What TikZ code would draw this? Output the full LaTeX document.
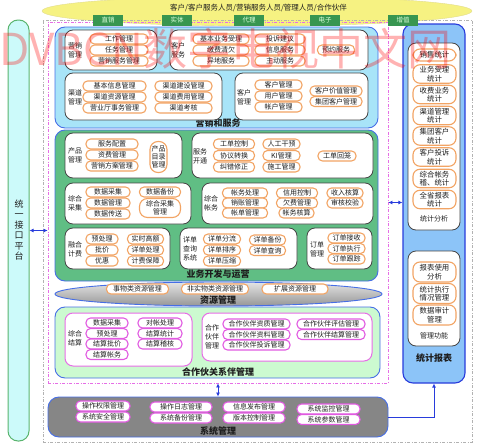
\documentclass[tikz,border=0pt]{standalone}
\usepackage{fontspec}
\setmainfont{Noto Sans CJK SC}
\usetikzlibrary{shapes.geometric,arrows.meta}
\definecolor{yellowc}{RGB}{246,242,130}
\definecolor{yellowd}{RGB}{225,220,140}
\definecolor{mkfill}{RGB}{168,228,248}
\definecolor{bizfill}{RGB}{96,190,132}
\definecolor{ptfill}{RGB}{204,250,208}
\definecolor{sysfill}{RGB}{134,134,134}
\definecolor{stfill}{RGB}{140,196,248}
\definecolor{secborder}{RGB}{70,110,230}
\definecolor{lbfill}{RGB}{204,250,250}
\definecolor{lbborder}{RGB}{90,180,110}
\definecolor{tabfill}{RGB}{56,150,80}
\definecolor{tabtext}{RGB}{220,255,220}
\definecolor{boxgray}{RGB}{70,70,70}
\definecolor{pillorange}{RGB}{242,164,100}
\definecolor{pillpink}{RGB}{225,90,225}
\definecolor{framepink}{RGB}{230,110,230}
\definecolor{arrowblue}{RGB}{40,60,220}
\definecolor{txt}{RGB}{30,30,30}
\newcommand{\myitem}{\fontsize{7}{8}\selectfont}
\newcommand{\mystat}{\fontsize{7.4}{8.6}\selectfont}
\newcommand{\mylab}{\fontsize{7}{9}\selectfont}
\newcommand{\mysec}{\fontsize{9}{10}\selectfont\bfseries}
\newcommand{\mysky}{\fontsize{7.5}{8}\selectfont}
\tikzset{
  pill/.style={draw=pillorange, line width=1.1pt, fill=white, rounded corners=4.5pt,
    inner sep=0pt, minimum height=10pt, minimum width=#1, font=\myitem, text=txt, align=center},
  ppill/.style={pill=#1, draw=pillpink},
  spill/.style={pill=43, font=\mystat, rounded corners=7pt},
  wbox/.style={draw=boxgray, line width=0.8pt, fill=white, rounded corners=8pt, inner sep=0pt},
  pbox/.style={wbox, draw=framepink, line width=1pt},
  sec/.style={draw=secborder, line width=0.9pt, rounded corners=10pt, inner sep=0pt},
  lab/.style={font=\mylab, text=txt, align=center, inner sep=0pt},
  seclab/.style={font=\mysec, text=txt, inner sep=0pt},
  tab/.style={fill=tabfill, minimum width=30pt, minimum height=11pt, inner sep=0pt,
    font=\fontsize{6.5}{7}\selectfont, text=tabtext},
  dbl/.style={arrowblue, line width=1pt, {Latex[length=4pt,width=4pt]}-{Latex[length=4pt,width=4pt]}},
  sgl/.style={arrowblue, line width=0.9pt, -{Latex[length=4pt,width=4pt]}}
}
\begin{document}
\begin{tikzpicture}[x=1pt,y=-1pt]
\useasboundingbox (0,0) rectangle (480,447);
\clip (0,0) rectangle (480,447);
% top ellipse
\node[ellipse, fill=yellowc, draw=yellowd, minimum width=430pt, minimum height=30pt] (sky) at (257,11) {};
\node[font=\mysky, text=txt, inner sep=0pt] (skyt) at (258.5,8) {客户/客户服务人员/营销服务人员/管理人员/合作伙伴};
% frames
\node[draw=gray!60, line width=0.8pt, dash pattern=on 3pt off 1.5pt on 1pt off 1.5pt, minimum width=429pt, minimum height=422pt, inner sep=0pt] (outer) at (257.5,231) {};
\node[draw=framepink, line width=0.8pt, dash pattern=on 3pt off 1.5pt on 1pt off 1.5pt, minimum width=340pt, minimum height=361pt, inner sep=0pt] (pinkf) at (218,202.5) {};
% left bar
\node[draw=lbborder, fill=lbfill, line width=1pt, rounded corners=10pt, minimum width=21pt, minimum height=421pt, inner sep=0pt] (lb) at (18.5,230.5) {};
\node[font=\fontsize{9}{10.5}\selectfont, text=txt, align=center, inner sep=0pt] (lbt) at (19,230) {统\\一\\接\\口\\平\\台};

% ===== marketing
\node[sec, fill=mkfill, minimum width=323pt, minimum height=101pt] (mk) at (216.5,77.5) {};
\node[seclab] (mkl) at (218,123.5) {营销和服务};
\node[wbox, minimum width=92pt, minimum height=40pt] (yxgl) at (111,50) {};
\node[lab] (yxgll) at (75,50) {营销\\管理};
\node[pill=58] (a1) at (119,39) {工作管理};
\node[pill=58] (a2) at (119,50) {任务管理};
\node[pill=58] (a3) at (119,61) {营销服务管理};
\node[wbox, minimum width=198pt, minimum height=40pt] (khfw) at (269,50) {};
\node[lab] (khfwl) at (178,50) {客户\\服务};
\node[pill=56] (b1) at (221,39) {基本业务受理};
\node[pill=56] (b2) at (221,50) {缴费清欠};
\node[pill=56] (b3) at (221,61) {异地服务};
\node[pill=50] (b4) at (280,39) {投诉建议};
\node[pill=50] (b5) at (280,50) {信息服务};
\node[pill=50] (b6) at (280,61) {主动服务};
\node[pill=37] (b7) at (336,50) {预约服务};
\node[wbox, minimum width=157pt, minimum height=47pt] (qdgl) at (143.5,96.5) {};
\node[lab] (qdgll) at (75,97) {渠道\\管理};
\node[pill=63] (c1) at (114.5,86) {基本信息管理};
\node[pill=63] (c2) at (114.5,97) {渠道资源管理};
\node[pill=63] (c3) at (114.5,108) {营业厅事务管理};
\node[pill=57] (c4) at (183.5,86) {渠道建设管理};
\node[pill=57] (c5) at (183.5,97) {渠道费用管理};
\node[pill=57] (c6) at (183.5,108) {渠道考核};
\node[wbox, minimum width=133pt, minimum height=47pt] (khgl) at (301.5,96.5) {};
\node[lab] (khgll) at (244,97) {客户\\管理};
\node[pill=47] (d1) at (278.5,85) {客户管理};
\node[pill=47] (d2) at (278.5,96) {用户管理};
\node[pill=47] (d3) at (278.5,107) {帐户管理};
\node[pill=52] (d4) at (336,91) {客户价值管理};
\node[pill=52] (d5) at (336,101.5) {集团客户管理};

% ===== business
\node[sec, fill=bizfill, minimum width=323pt, minimum height=151pt] (biz) at (216.5,205.5) {};
\node[seclab] (bizl) at (218,274.5) {业务开发与运营};
\node[wbox, minimum width=117pt, minimum height=45pt] (cpgl) at (123.5,155.5) {};
\node[lab] (cpgll) at (75,155) {产品\\管理};
\node[pill=52] (e1) at (112,144) {服务配置};
\node[pill=52] (e2) at (112,155) {资费管理};
\node[pill=52] (e3) at (112,166) {营销方案管理};
\node[pill=17, minimum height=31pt, rounded corners=8pt] (e4) at (158.5,157) {产品\\目录\\管理};
\node[wbox, minimum width=181pt, minimum height=45pt] (fwkt) at (282.5,155.5) {};
\node[lab] (fwktl) at (200,156) {服务\\开通};
\node[pill=41] (f1) at (234,144) {工单控制};
\node[pill=41] (f2) at (234,155.5) {协议转换};
\node[pill=41] (f3) at (234,167) {纠错修正};
\node[pill=37] (f4) at (281.5,144) {人工干预};
\node[pill=37] (f5) at (281.5,155.5) {KI管理};
\node[pill=37] (f6) at (281.5,167) {施工管理};
\node[pill=38] (f7) at (337,156) {工单回笼};
\node[wbox, minimum width=126pt, minimum height=41pt] (zhcj) at (128,203.5) {};
\node[lab] (zhcjl) at (75,203) {综合\\采集};
\node[pill=44] (g1) at (108,192) {数据采集};
\node[pill=44] (g2) at (108,203) {数据管理};
\node[pill=44] (g3) at (108,214) {数据传送};
\node[pill=41] (g4) at (160,192) {数据备份};
\node[pill=41, minimum height=19pt, rounded corners=8pt] (g5) at (160,208) {综合采集\\管理};
\node[wbox, minimum width=171pt, minimum height=41pt] (zhzw) at (287.5,203.5) {};
\node[lab] (zhzwl) at (211,203) {综合\\帐务};
\node[pill=45] (h1) at (245,193) {帐务处理};
\node[pill=45] (h2) at (245,203) {销账管理};
\node[pill=45] (h3) at (245,213) {帐单管理};
\node[pill=41] (h4) at (297,193) {信用控制};
\node[pill=41] (h5) at (297,203) {欠费管理};
\node[pill=35] (h6) at (296.5,213) {帐务核算};
\node[pill=36] (h7) at (345,193) {收入核算};
\node[pill=36] (h8) at (345,203) {审核校验};
\node[wbox, minimum width=105pt, minimum height=41pt] (rhjf) at (117.5,248.5) {};
\node[lab] (rhjfl) at (75,249) {融合\\计费};
\node[pill=32] (i1) at (102,239) {预处理};
\node[pill=32] (i2) at (102,250) {批价};
\node[pill=32] (i3) at (102,261) {优惠};
\node[pill=36] (i4) at (145.5,239) {实时高额};
\node[pill=36] (i5) at (145.5,250) {详单处理};
\node[pill=36] (i6) at (145.5,261) {计费保障};
\node[wbox, minimum width=117pt, minimum height=41pt] (xdcx) at (238.5,248.5) {};
\node[lab] (xdcxl) at (190,248.5) {详单\\查询\\系统};
\node[pill=37] (j1) at (222,239) {详单分流};
\node[pill=37] (j2) at (222,250) {详单排序};
\node[pill=37] (j3) at (222,261) {详单压缩};
\node[pill=36] (j4) at (267.5,240) {详单备份};
\node[pill=36] (j5) at (267.5,250.5) {详单查询};
\node[wbox, minimum width=65pt, minimum height=41pt] (ddgl) at (339.5,248.5) {};
\node[lab] (ddgll) at (317,249) {订单\\管理};
\node[pill=37] (k1) at (346.5,238) {订单接收};
\node[pill=37] (k2) at (346.5,248.5) {订单执行};
\node[pill=37] (k3) at (346.5,259) {订单跟踪};

% ===== resources
\node[ellipse, draw=secborder, line width=0.9pt, top color={rgb,255:red,228;green,228;blue,228}, bottom color={rgb,255:red,150;green,150;blue,150}, minimum width=327pt, minimum height=24pt, inner sep=0pt] (res) at (218.5,294) {};
\node[pill=62] (r1) at (137.5,289) {事物类资源管理};
\node[pill=67] (r2) at (215,289) {非实物类资源管理};
\node[pill=66] (r3) at (295,289) {扩展资源管理};
\node[seclab] (resl) at (218,300.5) {资源管理};

% ===== partner
\node[sec, fill=ptfill, minimum width=325pt, minimum height=71pt] (pt) at (217.5,342.5) {};
\node[seclab] (ptl) at (218,372) {合作伙关系伴管理};
\node[pbox, minimum width=127pt, minimum height=53pt] (zhjs) at (128.5,339.5) {};
\node[lab] (zhjsl) at (75,338) {综合\\结算};
\node[ppill=42] (m1) at (107,323) {数据采集};
\node[ppill=42] (m2) at (107,333.5) {预处理};
\node[ppill=42] (m3) at (107,344) {结算批价};
\node[ppill=42] (m4) at (107,354.5) {结算帐务};
\node[ppill=44] (m5) at (160,323) {对帐处理};
\node[ppill=44] (m6) at (160,333.5) {结算统计};
\node[ppill=44] (m7) at (160,344) {结算稽核};
\node[pbox, minimum width=170pt, minimum height=48pt] (hzhb) at (287,337) {};
\node[lab] (hzhbl) at (212,337) {合作\\伙伴\\管理};
\node[ppill=67] (n1) at (256.5,324) {合作伙伴资质管理};
\node[ppill=67] (n2) at (256.5,334.5) {合作伙伴资料管理};
\node[ppill=67] (n3) at (256.5,345) {合作伙伴投诉管理};
\node[ppill=68] (n4) at (331,324) {合作伙伴评估管理};
\node[ppill=68] (n5) at (331,334.5) {合作伙伴结算管理};

% ===== system
\node[sec, fill=sysfill, minimum width=340pt, minimum height=40pt, rounded corners=11pt] (sys) at (218,417) {};
\node[seclab] (sysl) at (218,431) {系统管理};
\node[ppill=54] (s1) at (103,406) {操作权限管理};
\node[ppill=54] (s2) at (103,417) {系统安全管理};
\node[ppill=62] (s3) at (181,407) {操作日志管理};
\node[ppill=62] (s4) at (181,418) {系统备份管理};
\node[ppill=62] (s5) at (254,407) {信息发布管理};
\node[ppill=62] (s6) at (254,418) {版本控制管理};
\node[ppill=63] (s7) at (328.5,409) {系统监控管理};
\node[ppill=63] (s8) at (328.5,419.5) {系统参数管理};

% ===== statistics
\node[sec, draw=arrowblue, line width=1.1pt, fill=stfill, minimum width=62pt, minimum height=359pt] (st) at (434,203.5) {};
\node[seclab] (stl) at (434,358) {统计报表};
\node[wbox, minimum width=52pt, minimum height=187pt] (tjfx) at (434,136.5) {};
\node[spill, minimum height=12pt] (q1) at (434.5,55) {销售统计};
\node[spill, minimum height=18.5pt] (q2) at (434.5,74) {业务受理\\统计};
\node[spill, minimum height=18.5pt] (q3) at (434.5,94.5) {收费业务\\统计};
\node[spill, minimum height=18.5pt] (q4) at (434.5,115.5) {渠道管理\\统计};
\node[spill, minimum height=18.5pt] (q5) at (434.5,136) {集团客户\\统计};
\node[spill, minimum height=18.5pt] (q6) at (434.5,157) {客户投诉\\统计};
\node[spill, minimum height=18.5pt] (q7) at (434.5,178.5) {综合帐务\\稽、统计};
\node[spill, minimum height=18.5pt] (q8) at (434.5,199.5) {全省报表\\统计};
\node[lab] (tjfxl) at (434,219) {统计分析};
\node[wbox, minimum width=52pt, minimum height=95pt] (glgn) at (434,298.5) {};
\node[spill, minimum height=20pt] (u1) at (434.5,272) {报表使用\\分析};
\node[spill, minimum height=20pt] (u2) at (434.5,293.5) {统计执行\\情况管理};
\node[spill, minimum height=20pt] (u3) at (434.5,315) {数据审计\\管理};
\node[lab] (glgnl) at (434,336) {管理功能};

% tabs
\node[tab] (t1) at (108,20.5) {直销};
\node[tab] (t2) at (177,20.5) {实体};
\node[tab] (t3) at (249,20.5) {代理};
\node[tab] (t4) at (325,20.5) {电子};
\node[tab] (t5) at (403,20.5) {增值};

% connectors
\draw[dbl] (lb.east) -- (pinkf.west |- lb.east);
\draw[dbl] (pinkf.east) -- (st.west |- pinkf.east);
\draw[dbl] (pinkf.south) -- (sys.north);
\draw[sgl] (sys.east) -| (st.south);

% watermark
\node[anchor=west, text=red, opacity=0.3, inner sep=0pt, font=\fontsize{44}{44}\selectfont] (wm) at (-1,49) {DVBCN数字电视中文网};
\end{tikzpicture}
\end{document}
